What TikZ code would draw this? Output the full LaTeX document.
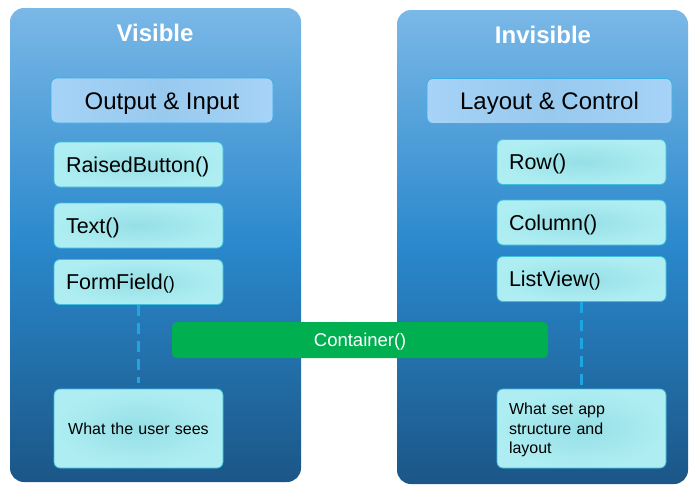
\documentclass[tikz,border=0pt]{standalone}
\usepackage{fontspec}
\setmainfont{Liberation Sans}
\usetikzlibrary{calc}

\definecolor{panelTop}{HTML}{7AB8E7}
\definecolor{panelMid}{HTML}{2A88CC}
\definecolor{panelBot}{HTML}{1B5687}
\definecolor{headFill}{HTML}{A6D3F7}
\definecolor{headMid}{HTML}{98C9EF}
\definecolor{headLine}{HTML}{3AAEE6}
\definecolor{itemIn}{HTML}{96DFE6}
\definecolor{itemOut}{HTML}{AEEEF2}
\definecolor{itemLine}{HTML}{3CC0DC}
\definecolor{dashBlue}{HTML}{1EA5E2}
\definecolor{contGreen}{HTML}{00B050}

\tikzset{
panel/.style={rounded corners=14pt,minimum width=291pt,minimum height=474pt,
top color=panelTop,bottom color=panelBot,middle color=panelMid},
paneltitle/.style={text=white,font=\fontsize{24}{24}\selectfont\bfseries},
headbox/.style={rounded corners=6pt,draw=headLine,line width=0.8pt,
left color=headFill,right color=headFill,middle color=headMid,
minimum height=45pt,text height=17pt,text depth=0pt,
font=\fontsize{24}{24}\selectfont},
itembox/.style={rounded corners=6pt,draw=itemLine,line width=0.8pt,
inner color=itemIn,outer color=itemOut,minimum width=169pt,minimum height=45pt,
text width=145pt,inner xsep=12pt,align=left,text height=15.5pt,text depth=0pt,
font=\fontsize{21.5}{21.5}\selectfont},
notebox/.style={itembox,minimum height=79pt,text height=11.5pt,
font=\fontsize{16}{19.5}\selectfont},
dashconn/.style={dashBlue,line width=3.2pt,dash pattern=on 11pt off 7pt}
}

\newcommand{\smallpar}{{\fontsize{18}{18}\selectfont()}}

\begin{document}
\begin{tikzpicture}[x=1pt,y=-1pt]
\useasboundingbox (0,0) rectangle (699,491);

% Panels
\node[panel] (vis) at (155.5,245) {};
\node[panel] (invis) at (542.5,247) {};
\node[paneltitle] (vistitle) at (155,33) {Visible};
\node[paneltitle] (invistitle) at (543,35) {Invisible};

% Group headers
\node[headbox,minimum width=222pt] (outin) at (162,100.5) {Output \& Input};
\node[headbox,minimum width=245pt] (laycon) at (549.5,101) {Layout \& Control};

% Widgets
\foreach \name/\y/\label in {raised/164.5/RaisedButton(),text/225.5/Text(),form/282/FormField\smallpar}
{
\node[itembox] (\name) at (138.5,\y) {\label};
}
\foreach \name/\y/\label in {row/162/Row(),column/222.5/Column(),listview/279/ListView\smallpar}
{
\node[itembox] (\name) at (581.5,\y) {\label};
}

% Notes
\node[notebox,align=center] (usersees) at (138.5,428.5) {What the user sees};
\node[notebox,text depth=39pt] (appstruct) at (581.5,428.5) {What set app\\structure and\\layout};

% Dashed links
\draw[dashconn,shorten >=6pt] (form) -- (usersees);
\draw[dashconn,shorten >=1pt] (listview) -- (appstruct);

% Container
\node[rounded corners=5pt,fill=contGreen,minimum width=376pt,minimum height=36pt,
text=white,text height=13pt,text depth=0pt,font=\fontsize{18.5}{18.5}\selectfont] (container) at (360,340) {Container\smallpar};

\end{tikzpicture}
\end{document}
